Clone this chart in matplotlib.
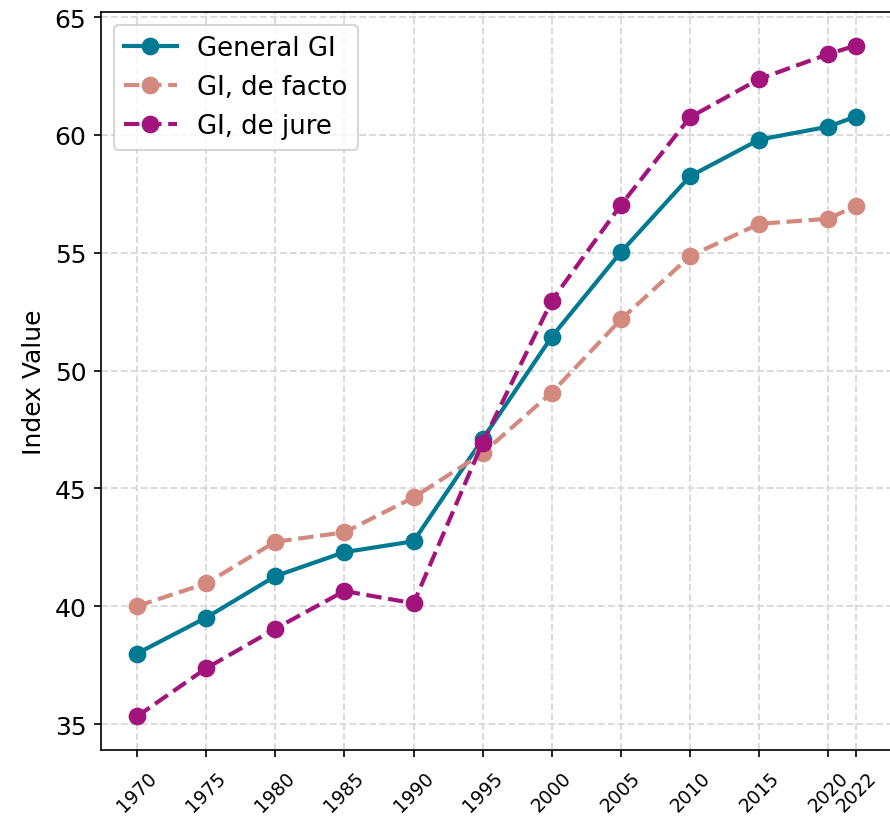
import matplotlib
matplotlib.use("Agg")
import matplotlib.pyplot as plt

# valores
years = [1970, 1975, 1980, 1985, 1990, 1995, 2000, 2005, 2010, 2015, 2020, 2022]
general_gi = [38.0, 39.52, 41.28, 42.30, 42.76, 47.10, 51.44, 55.03, 58.25, 59.80, 60.35, 60.78]
gi_de_facto = [40.01, 40.97, 42.74, 43.14, 44.62, 46.50, 49.07, 52.17, 54.86, 56.23, 56.44, 57.0]
gi_de_jure = [35.33, 37.37, 39.05, 40.65, 40.13, 46.95, 52.97, 57.03, 60.75, 62.37, 63.43, 63.79]

fig = plt.figure(figsize=(8.9 / 1.5, 8.2 / 1.5), dpi=150)
ax = fig.add_axes([101 / 890, 1 - 751 / 820, 791 / 890, 738 / 820])

ax.plot(years, general_gi, "-o", color="#007a93", lw=2, ms=7.5, label="General GI")
ax.plot(years, gi_de_facto, "--o", color="#d4897f", lw=2, ms=7.5, label="GI, de facto")
ax.plot(years, gi_de_jure, "--o", color="#a3137c", lw=2, ms=7.5, label="GI, de jure")

ax.set_xticks(years)
ax.set_xticklabels([str(y) for y in years], rotation=45, fontsize=9)
ax.tick_params(axis="x", pad=5)
ax.tick_params(axis="y", labelsize=12)
ax.set_ylabel("Index Value", fontsize=12)
ax.grid(True, linestyle="--", color="#d9d9d9", lw=0.9)
ax.spines["right"].set_visible(False)  # en la referencia el borde derecho queda fuera
ax.legend(loc="upper left", fontsize=12.5)

fig.savefig("out.png", dpi=150)
